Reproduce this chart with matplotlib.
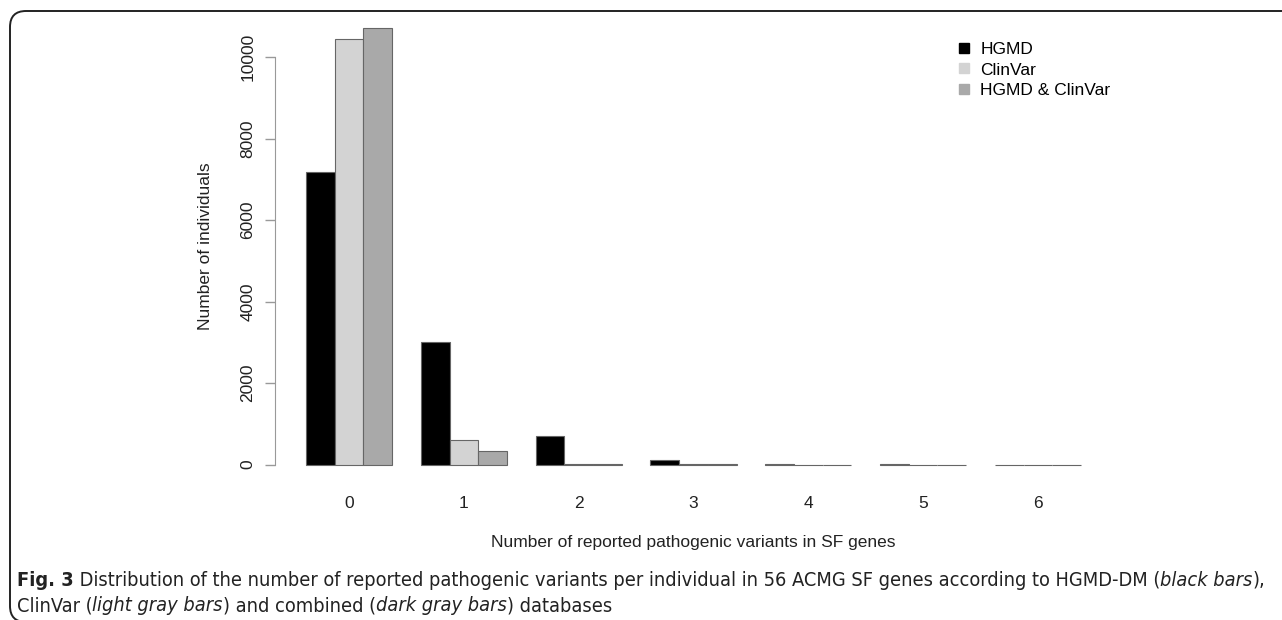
#!/usr/bin/env python

import numpy as np
import matplotlib.pyplot as plt
from matplotlib.lines import Line2D
from matplotlib.patches import FancyBboxPatch

plt.rcParams["font.family"] = ["Liberation Sans", "DejaVu Sans"]

categories = ["0", "1", "2", "3", "4", "5", "6"]
hgmd = [7180, 3015, 711, 108, 20, 2, 1]
clinvar = [10434, 598, 20, 3, 1, 0, 0]
combined = [10703, 343, 10, 3, 1, 0, 0]
series_names = ["HGMD", "ClinVar", "HGMD & ClinVar"]
series_colors = ["black", "#d3d3d3", "#a9a9a9"]
yticks = [0, 2000, 4000, 6000, 8000, 10000]

caption = [
    [("Fig. 3", "bold", "normal"),
     (" Distribution of the number of reported pathogenic variants per individual"
      " in 56 ACMG SF genes according to HGMD-DM (", "normal", "normal"),
     ("black bars", "normal", "italic"),
     ("),", "normal", "normal")],
    [("ClinVar (", "normal", "normal"),
     ("light gray bars", "normal", "italic"),
     (") and combined (", "normal", "normal"),
     ("dark gray bars", "normal", "italic"),
     (") databases", "normal", "normal")],
]

W, H = 1282, 620
fig = plt.figure(figsize=(W / 100, H / 100), dpi=100)

# rounded frame around figure + caption (display coords, origin bottom-left);
# bottom edge sits just below the canvas, only the corner curve shows
frame = FancyBboxPatch((10, -2), 1400, H - 11 + 2,
                       boxstyle="round,pad=0,rounding_size=16",
                       transform=None, fill=False, ec="#222222", lw=1.4)
fig.patches.append(frame)

ax = fig.add_axes([275 / W, 1 - 482 / H, (1112 - 275) / W, (482 - 11) / H])

# R style barplot(beside=TRUE): bars of width 1, one empty slot between groups
groups = np.arange(len(categories))
all_series = [hgmd, clinvar, combined]
for k, (vals, col, name) in enumerate(zip(all_series, series_colors, series_names)):
    x = 1 + 4 * groups + k
    ax.bar(x, vals, width=1, align="edge", color=col, edgecolor="#666666",
           linewidth=0.8, label=name)

top = max(max(s) for s in all_series)
ax.set_xlim(1 - 0.04 * 27, 28 + 0.04 * 27)
ax.set_ylim(-0.04 * top, 1.04 * top)

for s in ["top", "right", "bottom"]:
    ax.spines[s].set_visible(False)
ax.spines["left"].set_bounds(0, 10000)
ax.spines["left"].set_color("#999999")

ax.set_yticks(yticks)
ax.set_yticklabels([str(t) for t in yticks], rotation=90, va="center")
ax.tick_params(axis="y", length=7, width=1, color="#999999", pad=7,
               labelsize=12.5, labelcolor="#222222")
ax.set_xticks(2.5 + 4 * groups)
ax.set_xticklabels(categories)
ax.tick_params(axis="x", length=0, pad=10, labelsize=12.5, labelcolor="#222222")

ax.set_ylabel("Number of individuals", fontsize=12.5, color="#222222", labelpad=20)
ax.set_xlabel("Number of reported pathogenic variants in SF genes", fontsize=12.5,
              color="#222222", labelpad=17)

handles = [Line2D([], [], marker="s", ls="none", color=c, markersize=6.5)
           for c in series_colors]
ax.legend(handles, series_names, loc="upper left",
          bbox_to_anchor=(957 / W, 1 - 42 / H), bbox_transform=fig.transFigure,
          frameon=False, fontsize=12.5, handlelength=0.8, handletextpad=0.55,
          labelspacing=0.3, borderpad=0, borderaxespad=0)

# caption, laid out piece by piece
renderer = fig.canvas.get_renderer()
cap_family = ["DejaVu Sans"]
size = 10.0


def line_width(parts, fs):
    w = 0
    for txt, weight, style in parts:
        t = fig.text(0, 0, txt, fontsize=fs, fontweight=weight, fontstyle=style,
                     fontstretch="condensed", family=cap_family)
        w += t.get_window_extent(renderer).width
        t.remove()
    return w


size = size * (1266 - 17) / line_width(caption[0], size)

for parts, ybase in zip(caption, [586, 611]):
    x = 17
    for txt, weight, style in parts:
        t = fig.text(x / W, 1 - ybase / H, txt, fontsize=size, fontweight=weight,
                     fontstyle=style, fontstretch="condensed", family=cap_family,
                     color="#222222", va="baseline", ha="left")
        x += t.get_window_extent(renderer).width

fig.savefig("out.png", dpi=100)
